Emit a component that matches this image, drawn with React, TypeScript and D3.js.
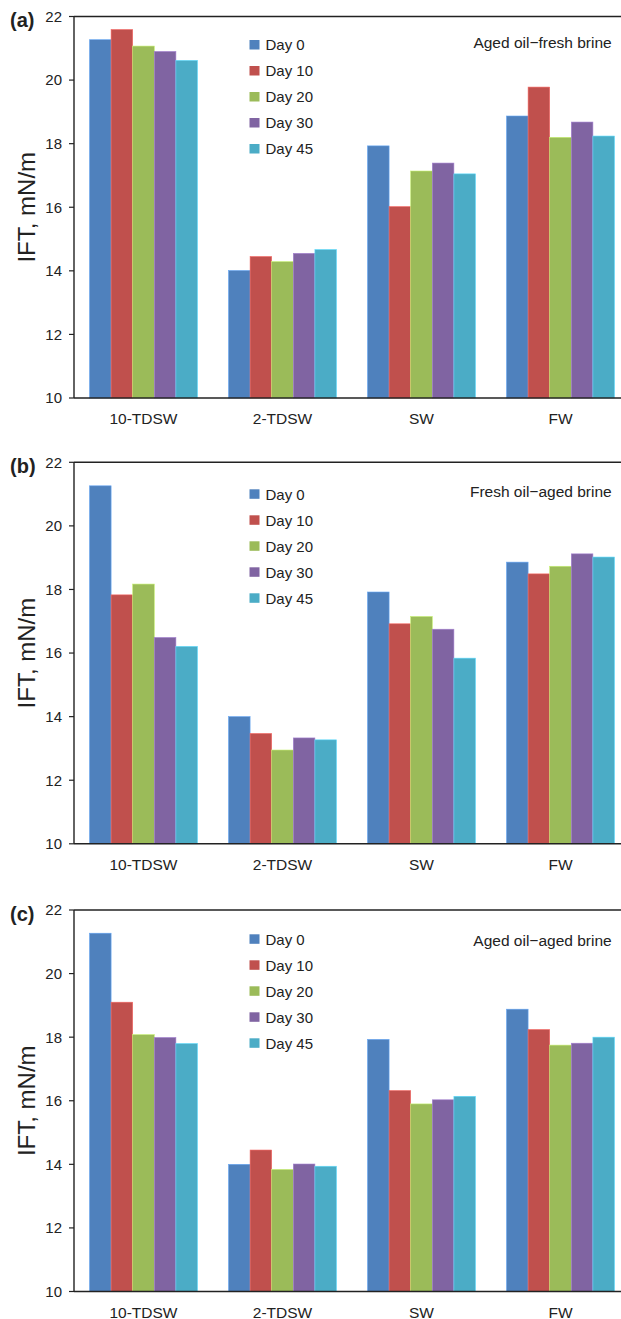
import React from "react";
import * as d3 from "d3";

const categories = ["10-TDSW", "2-TDSW", "SW", "FW"];
const seriesNames = ["Day 0", "Day 10", "Day 20", "Day 30", "Day 45"];
const seriesColors = ["#4F81BD", "#C0504D", "#9BBB59", "#8064A2", "#4BACC6"];
const yTicks = [10, 12, 14, 16, 18, 20, 22];
const panelLabels = ["(a)", "(b)", "(c)"];
const panelTitles = ["Aged oil\u2212fresh brine", "Fresh oil\u2212aged brine", "Aged oil\u2212aged brine"];

// values[series][category]
const panelA = [
  [21.27, 14.01, 17.93, 18.87],
  [21.59, 14.45, 16.02, 19.78],
  [21.07, 14.29, 17.14, 18.2],
  [20.9, 14.55, 17.39, 18.68],
  [20.62, 14.67, 17.05, 18.24],
];
const panelB = [
  [21.26, 14.0, 17.92, 18.86],
  [17.83, 13.47, 16.92, 18.49],
  [18.17, 12.95, 17.15, 18.73],
  [16.49, 13.33, 16.75, 19.12],
  [16.21, 13.27, 15.84, 19.02],
];
const panelC = [
  [21.27, 14.0, 17.93, 18.88],
  [19.1, 14.45, 16.32, 18.24],
  [18.08, 13.84, 15.9, 17.75],
  [17.99, 14.01, 16.03, 17.81],
  [17.8, 13.94, 16.14, 18.0],
];
const panels = [panelA, panelB, panelC];

const W = 621;
const H = 1319;
const FONT = "Liberation Sans, Arial, Helvetica, sans-serif";
const plotLeft = 74;
const plotRight = 630;
const panelTops = [16.5, 462.3, 910];
const plotH = 381.5;
const legendOffsets = [23.5, 27, 24.3];
const titleOffsets = [31, 34.4, 36];

function Panel({ idx }: { idx: number }) {
  const data = panels[idx];
  const top = panelTops[idx];
  const bottom = top + plotH;
  const y = d3.scaleLinear().domain([10, 22]).range([bottom, top]);
  const x0 = d3
    .scaleBand<string>()
    .domain(categories)
    .range([plotLeft, plotRight])
    .paddingInner(0.223)
    .paddingOuter(0.1115);
  const x1 = d3
    .scaleBand<string>()
    .domain(seriesNames)
    .range([0, x0.bandwidth()])
    .padding(0);
  const axisColor = "#222";
  const legTop = top + legendOffsets[idx];
  return (
    <g>
      {seriesNames.map((s, si) =>
        categories.map((c, ci) => {
          const v = data[si][ci];
          const xx = (x0(c) as number) + (x1(s) as number);
          const col = seriesColors[si];
          const light = d3.color(col)!.brighter(0.7).formatHex();
          return (
            <rect
              key={s + c}
              x={xx}
              y={y(v)}
              width={x1.bandwidth()}
              height={bottom - y(v)}
              fill={col}
              stroke={light}
              strokeWidth={0.6}
            />
          );
        })
      )}
      {/* axes */}
      <line x1={plotLeft} x2={W} y1={top} y2={top} stroke={axisColor} strokeWidth={1.4} />
      <line x1={plotLeft} x2={W} y1={bottom} y2={bottom} stroke={axisColor} strokeWidth={1.4} />
      <line x1={plotLeft} x2={plotLeft} y1={top} y2={bottom} stroke={axisColor} strokeWidth={1.4} />
      {yTicks.map((t) => (
        <g key={t}>
          <line x1={plotLeft - 5} x2={plotLeft} y1={y(t)} y2={y(t)} stroke={axisColor} strokeWidth={1.2} />
          <text
            x={62}
            y={y(t)}
            dy="0.36em"
            textAnchor="end"
            fontSize={15}
            fontFamily={FONT}
            fill="#222"
          >
            {t}
          </text>
        </g>
      ))}
      {categories.map((c) => (
        <text
          key={c}
          x={(x0(c) as number) + x0.bandwidth() / 2}
          y={bottom + 26}
          textAnchor="middle"
          fontSize={15.5}
          fontFamily={FONT}
          fill="#222"
        >
          {c}
        </text>
      ))}
      <text
        transform={`translate(35,${(top + bottom) / 2}) rotate(-90)`}
        textAnchor="middle"
        fontSize={24}
        fontFamily={FONT}
        fill="#222"
      >
        IFT, mN/m
      </text>
      <text x={10} y={top + 10.5} fontSize={20} fontWeight="bold" fontFamily={FONT} fill="#222">
        {panelLabels[idx]}
      </text>
      <text
        x={611.7}
        y={top + titleOffsets[idx]}
        textAnchor="end"
        fontSize={15.5}
        fontFamily={FONT}
        fill="#222"
      >
        {panelTitles[idx]}
      </text>
      {seriesNames.map((s, si) => (
        <g key={s} transform={`translate(249.5,${legTop + si * 26})`}>
          <rect width={10} height={9.5} fill={seriesColors[si]} />
          <text x={16} y={5} dy="0.36em" fontSize={15} fontFamily={FONT} fill="#222">
            {s}
          </text>
        </g>
      ))}
    </g>
  );
}

export default function App() {
  return (
    <svg
      width={W}
      height={H}
      style={{ position: "absolute", left: 0, top: 0, background: "#fff" }}
    >
      <rect width={W} height={H} fill="#fff" />
      {[0, 1, 2].map((i) => (
        <Panel key={i} idx={i} />
      ))}
    </svg>
  );
}
